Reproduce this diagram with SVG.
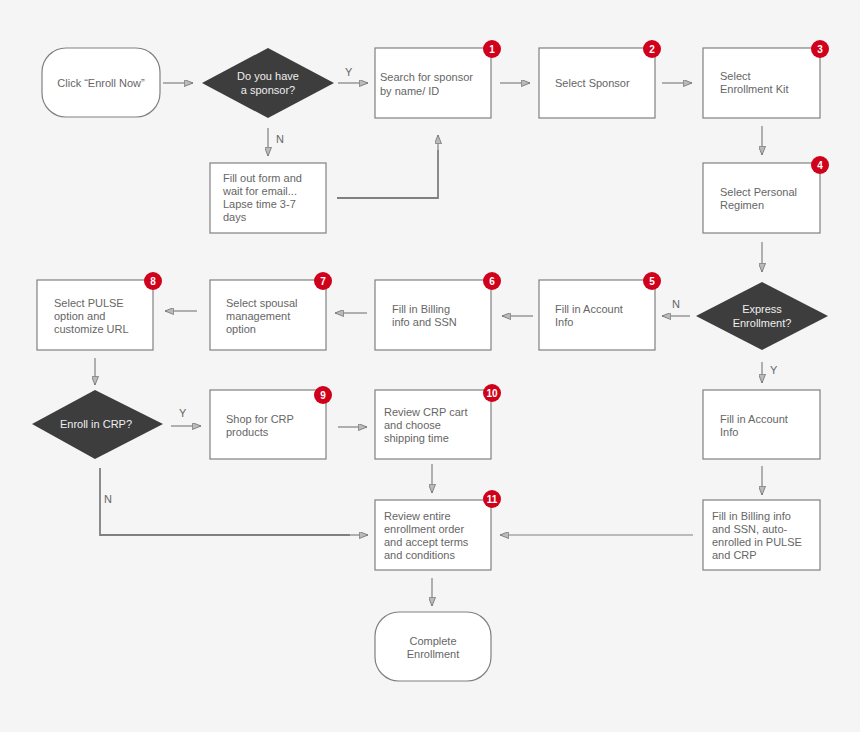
<svg xmlns="http://www.w3.org/2000/svg" width="860" height="732" viewBox="0 0 860 732">
<defs>
<marker id="ah" viewBox="0 0 10 8" refX="10" refY="4" markerWidth="9" markerHeight="7" markerUnits="userSpaceOnUse" orient="auto"><path d="M0,0 L10,4 L0,8 Z" fill="#bbb" stroke="#777" stroke-width="1"/></marker>
<style>
text{font-family:"Liberation Sans",Arial,sans-serif;font-size:11px;fill:#666}
.box{fill:#fff;stroke:#808080;stroke-width:1.2}
.dia{fill:#3d3d3d}
.dt{fill:#eee;text-anchor:middle}
.c{text-anchor:middle}
.bd circle{fill:#d0021b}
.bd text{fill:#fff;font-weight:bold;font-size:10px;text-anchor:middle}
#connectors path{fill:none;stroke:#808080;stroke-width:1.2;marker-end:url(#ah)}
#connectors path.n{marker-end:none}
</style>
</defs>
<rect width="860" height="732" fill="#f5f5f5"/>
<g id="connectors">
<path d="M163,83H193"/><path d="M338,83H368"/><path d="M268,128V156"/>
<path class="n" d="M337,198H438V150" style="stroke-width:1.8"/><path d="M438,150V135"/>
<path d="M500,83H530"/><path d="M662,83H692"/><path d="M762,126V155"/><path d="M762,242V272"/>
<path d="M690,316H662"/><path d="M533,316H502"/><path d="M367,313H335"/><path d="M197,311H165"/>
<path d="M95,358V385"/><path d="M171,426H201"/><path d="M338,427H367"/><path d="M432,464V493"/>
<path class="n" d="M100,468V535H350" style="stroke-width:1.8"/><path d="M350,535H368"/>
<path d="M693,535H500"/><path d="M762,466V495"/><path d="M762,362V383"/><path d="M432,578V606"/>
<text x="345" y="76">Y</text><text x="276" y="143">N</text><text x="672" y="308">N</text>
<text x="179" y="417">Y</text><text x="104" y="503">N</text><text x="770" y="374">Y</text>
</g>
<g id="start"><rect class="box" x="42" y="48" width="118" height="69" rx="24"/><text class="c" x="101" y="87">Click “Enroll Now”</text></g>
<g id="d1"><path class="dia" d="M268,48L334,83L268,118L202,83Z"/><text class="dt" x="268" y="80">Do you have</text><text class="dt" x="268" y="94">a sponsor?</text></g>
<g id="n1"><rect class="box" x="375" y="48" width="116" height="70"/><text x="380" y="81">Search for sponsor</text><text x="380" y="95">by name/ ID</text><g class="bd"><circle cx="492" cy="49" r="9"/><text x="492" y="53">1</text></g></g>
<g id="n2"><rect class="box" x="539" y="48" width="116" height="70"/><text x="555" y="87">Select Sponsor</text><g class="bd"><circle cx="652" cy="49" r="9"/><text x="652" y="53">2</text></g></g>
<g id="n3"><rect class="box" x="703" y="48" width="117" height="70"/><text x="720" y="80">Select</text><text x="720" y="93">Enrollment Kit</text><g class="bd"><circle cx="820" cy="49" r="9"/><text x="820" y="53">3</text></g></g>
<g id="form"><rect class="box" x="210" y="163" width="116" height="70"/><text x="223" y="182">Fill out form and</text><text x="223" y="195">wait for email...</text><text x="223" y="208">Lapse time 3-7</text><text x="223" y="221">days</text></g>
<g id="n4"><rect class="box" x="703" y="163" width="117" height="70"/><text x="720" y="196">Select Personal</text><text x="720" y="209">Regimen</text><g class="bd"><circle cx="820" cy="165" r="9"/><text x="820" y="169">4</text></g></g>
<g id="d2"><path class="dia" d="M762,282L828,316L762,350L696,316Z"/><text class="dt" x="762" y="313">Express</text><text class="dt" x="762" y="327">Enrollment?</text></g>
<g id="n5"><rect class="box" x="539" y="280" width="116" height="70"/><text x="555" y="313">Fill in Account</text><text x="555" y="326">Info</text><g class="bd"><circle cx="652" cy="281" r="9"/><text x="652" y="285">5</text></g></g>
<g id="n6"><rect class="box" x="375" y="280" width="116" height="70"/><text x="392" y="313">Fill in Billing</text><text x="392" y="326">info and SSN</text><g class="bd"><circle cx="492" cy="281" r="9"/><text x="492" y="285">6</text></g></g>
<g id="n7"><rect class="box" x="210" y="280" width="116" height="70"/><text x="226" y="307">Select spousal</text><text x="226" y="320">management</text><text x="226" y="333">option</text><g class="bd"><circle cx="323" cy="281" r="9"/><text x="323" y="285">7</text></g></g>
<g id="n8"><rect class="box" x="37" y="280" width="116" height="70"/><text x="54" y="307">Select PULSE</text><text x="54" y="320">option and</text><text x="54" y="333">customize URL</text><g class="bd"><circle cx="153" cy="281" r="9"/><text x="153" y="285">8</text></g></g>
<g id="d3"><path class="dia" d="M95,390L163,424L95,459L32,424Z"/><text class="dt" x="96" y="428">Enroll in CRP?</text></g>
<g id="n9"><rect class="box" x="210" y="390" width="116" height="69"/><text x="226" y="423">Shop for CRP</text><text x="226" y="436">products</text><g class="bd"><circle cx="323" cy="395" r="9"/><text x="323" y="399">9</text></g></g>
<g id="n10"><rect class="box" x="375" y="390" width="116" height="69"/><text x="384" y="416">Review CRP cart</text><text x="384" y="429">and choose</text><text x="384" y="442">shipping time</text><g class="bd"><circle cx="492" cy="393" r="9"/><text x="492" y="397">10</text></g></g>
<g id="n11"><rect class="box" x="375" y="500" width="116" height="70"/><text x="384" y="520">Review entire</text><text x="384" y="533">enrollment order</text><text x="384" y="546">and accept terms</text><text x="384" y="559">and conditions</text><g class="bd"><circle cx="492" cy="499" r="9"/><text x="492" y="503">11</text></g></g>
<g id="e1"><rect class="box" x="703" y="390" width="117" height="69"/><text x="720" y="423">Fill in Account</text><text x="720" y="436">Info</text></g>
<g id="e2"><rect class="box" x="703" y="500" width="117" height="70"/><text x="712" y="520">Fill in Billing info</text><text x="712" y="533">and SSN, auto-</text><text x="712" y="546">enrolled in PULSE</text><text x="712" y="559">and CRP</text></g>
<g id="end"><rect class="box" x="375" y="612" width="116" height="69" rx="24"/><text class="c" x="433" y="645">Complete</text><text class="c" x="433" y="658">Enrollment</text></g>
</svg>
